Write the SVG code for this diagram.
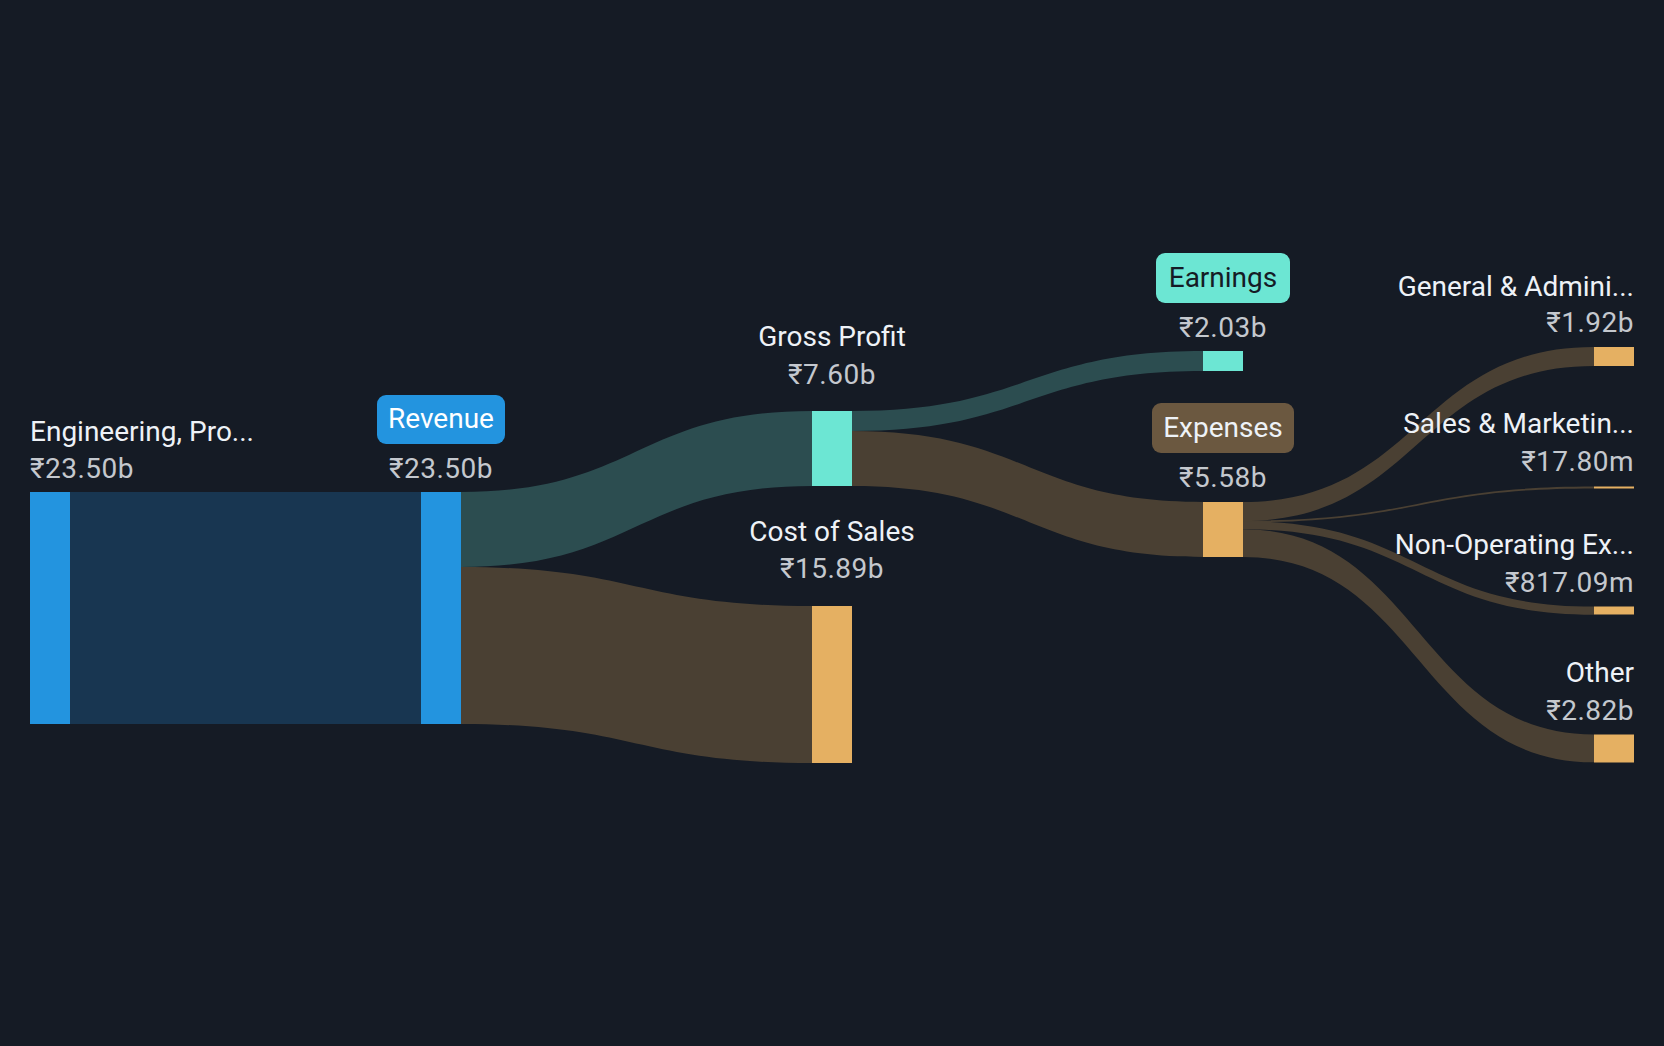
<svg xmlns="http://www.w3.org/2000/svg" width="1664" height="1046" viewBox="0 0 1664 1046">
<style>
.lbl{font-family:Roboto,"Liberation Sans",sans-serif;font-size:28px;fill:#eef2f7}
.val{font-family:Roboto,"Liberation Sans",sans-serif;font-size:28px;fill:#c4c8ce;letter-spacing:0.5px}
.mid{text-anchor:middle}
.end{text-anchor:end}
.blue{fill:#2394df}
.teal{fill:#6ce6d3}
.orange{fill:#e5b062}
.lteal{fill:#2c4d50}
.lbrown{fill:#4a4033}
.lblue{fill:#183651}
</style>
<rect x="0" y="0" width="1664" height="1046" fill="#151b25"/>
<g id="connectors">
<rect class="lblue" x="70" y="492" width="351" height="232"/>
<path class="lteal" d="M461,492 C636.5,492 636.5,411 812,411 L812,486 C636.5,486 636.5,567 461,567 Z"/>
<path class="lbrown" d="M461,567 C636.5,567 636.5,606 812,606 L812,763 C636.5,763 636.5,724 461,724 Z"/>
<path class="lteal" d="M852,411 C1027.5,411 1027.5,351 1203,351 L1203,371 C1027.5,371 1027.5,431 852,431 Z"/>
<path class="lbrown" d="M852,431 C1027.5,431 1027.5,502 1203,502 L1203,557 C1027.5,557 1027.5,486 852,486 Z"/>
<path class="lbrown" d="M1243,502 C1418.5,502 1418.5,347 1594,347 L1594,366 C1418.5,366 1418.5,521 1243,521 Z"/>
<path class="lbrown" d="M1243,520.6 C1418.5,520.6 1418.5,486.6 1594,486.6 L1594,488.4 C1418.5,488.4 1418.5,522.4 1243,522.4 Z"/>
<path class="lbrown" d="M1243,521.2 C1418.5,521.2 1418.5,606.6 1594,606.6 L1594,614.7 C1418.5,614.7 1418.5,529.3 1243,529.3 Z"/>
<path class="lbrown" d="M1243,529.3 C1418.5,529.3 1418.5,734.5 1594,734.5 L1594,762.3 C1418.5,762.3 1418.5,557 1243,557 Z"/>
</g>
<g id="node-engineering">
<rect class="blue" x="30" y="492" width="40" height="232"/>
<text class="lbl" x="30" y="441">Engineering, Pro...</text>
<text class="val" x="30" y="478">₹23.50b</text>
</g>
<g id="node-revenue">
<rect class="blue" x="421" y="492" width="40" height="232"/>
<rect class="blue" x="377" y="395" width="128" height="49" rx="9"/>
<text class="lbl mid" x="441" y="428" style="fill:#ffffff">Revenue</text>
<text class="val mid" x="441" y="478">₹23.50b</text>
</g>
<g id="node-gross-profit">
<rect class="teal" x="812" y="411" width="40" height="75"/>
<text class="lbl mid" x="832" y="346">Gross Profit</text>
<text class="val mid" x="832" y="384">₹7.60b</text>
</g>
<g id="node-cost-of-sales">
<rect class="orange" x="812" y="606" width="40" height="157"/>
<text class="lbl mid" x="832" y="541">Cost of Sales</text>
<text class="val mid" x="832" y="578">₹15.89b</text>
</g>
<g id="node-earnings">
<rect class="teal" x="1203" y="351" width="40" height="20"/>
<rect class="teal" x="1156" y="253" width="134" height="50" rx="9"/>
<text class="lbl mid" x="1223" y="287" style="fill:#151b25">Earnings</text>
<text class="val mid" x="1223" y="337">₹2.03b</text>
</g>
<g id="node-expenses">
<rect class="orange" x="1203" y="502" width="40" height="55"/>
<rect x="1152" y="403" width="142" height="50" rx="9" fill="#6b5840"/>
<text class="lbl mid" x="1223" y="437">Expenses</text>
<text class="val mid" x="1223" y="487">₹5.58b</text>
</g>
<g id="node-general-admin">
<rect class="orange" x="1594" y="347" width="40" height="19"/>
<text class="lbl end" x="1634" y="296">General &amp; Admini...</text>
<text class="val end" x="1634" y="332">₹1.92b</text>
</g>
<g id="node-sales-marketing">
<rect class="orange" x="1594" y="486.5" width="40" height="2"/>
<text class="lbl end" x="1634" y="433">Sales &amp; Marketin...</text>
<text class="val end" x="1634" y="471">₹17.80m</text>
</g>
<g id="node-non-operating">
<rect class="orange" x="1594" y="606.5" width="40" height="8"/>
<text class="lbl end" x="1634" y="554">Non-Operating Ex...</text>
<text class="val end" x="1634" y="592">₹817.09m</text>
</g>
<g id="node-other">
<rect class="orange" x="1594" y="734.5" width="40" height="28"/>
<text class="lbl end" x="1634" y="682">Other</text>
<text class="val end" x="1634" y="720">₹2.82b</text>
</g>
</svg>
